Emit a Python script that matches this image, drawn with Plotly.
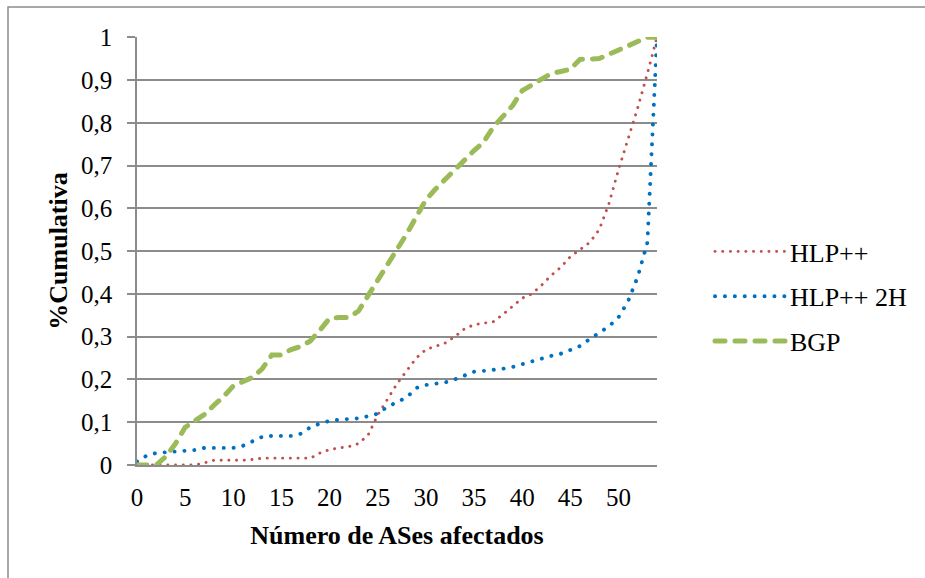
import plotly.graph_objects as go

# ---- data ----
categories = list(range(0, 55))

hlp = [0, 0, 0, 0, 0, 0, 0, 0.005, 0.011, 0.011,
       0.011, 0.011, 0.013, 0.016, 0.016, 0.016, 0.016, 0.016, 0.016, 0.028,
       0.036, 0.04, 0.043, 0.05, 0.07, 0.117, 0.155, 0.19, 0.22, 0.25,
       0.27, 0.278, 0.285, 0.30, 0.318, 0.328, 0.332, 0.335, 0.352, 0.37,
       0.39, 0.40, 0.42, 0.443, 0.462, 0.487, 0.503, 0.52, 0.55, 0.61,
       0.69, 0.76, 0.835, 0.915, 1.0]

hlp2h = [0.008, 0.022, 0.028, 0.03, 0.03, 0.033, 0.035, 0.04, 0.04, 0.04,
         0.04, 0.045, 0.056, 0.066, 0.068, 0.068, 0.068, 0.073, 0.088, 0.097,
         0.103, 0.106, 0.108, 0.109, 0.114, 0.12, 0.136, 0.148, 0.158, 0.18,
         0.187, 0.19, 0.193, 0.2, 0.21, 0.218, 0.22, 0.222, 0.225, 0.229,
         0.236, 0.243, 0.249, 0.255, 0.26, 0.268, 0.278, 0.294, 0.308, 0.324,
         0.345, 0.383, 0.44, 0.52, 1.0]

bgp = [0, 0, 0, 0.02, 0.05, 0.088, 0.102, 0.118, 0.14, 0.16,
       0.185, 0.196, 0.205, 0.225, 0.257, 0.257, 0.27, 0.277, 0.29, 0.315,
       0.343, 0.345, 0.345, 0.36, 0.395, 0.43, 0.47, 0.505, 0.54, 0.58,
       0.62, 0.645, 0.668, 0.688, 0.712, 0.735, 0.755, 0.79, 0.815, 0.84,
       0.875, 0.888, 0.9, 0.915, 0.92, 0.925, 0.948, 0.948, 0.95, 0.96,
       0.97, 0.98, 0.99, 1.0, 1.0]

series_names = ["HLP++", "HLP++ 2H", "BGP"]
x_tickvals = [0, 5, 10, 15, 20, 25, 30, 35, 40, 45, 50]
y_tickvals = [0, 0.1, 0.2, 0.3, 0.4, 0.5, 0.6, 0.7, 0.8, 0.9, 1]
y_ticktext = ["0", "0,1", "0,2", "0,3", "0,4", "0,5", "0,6", "0,7", "0,8", "0,9", "1"]

FONT = "Liberation Serif"
GRID = "#8c8c8c"

W, H = 925, 578
L, R, T, B = 137, 657, 37, 465

fig = go.Figure()
fig.add_trace(go.Scatter(x=categories, y=hlp, name=series_names[0], mode="lines",
                         line=dict(color="#C0504D", width=2.9, dash="0.1px,7.6px"),
                         legendgroup="a"))
fig.add_trace(go.Scatter(x=categories, y=hlp2h, name=series_names[1], mode="lines",
                         line=dict(color="#0070C0", width=3.9, dash="0.1px,9.8px"),
                         legendgroup="b"))
fig.add_trace(go.Scatter(x=categories, y=bgp, name=series_names[2], mode="lines",
                         line=dict(color="#9BBB59", width=5, dash="10px,10px"),
                         legendgroup="c"))

def px_x(p):
    return (p - L) / (R - L)

def px_y(p):
    return (B - p) / (B - T)

fig.update_layout(
    width=W, height=H,
    margin=dict(l=L, r=W - R, t=T, b=H - B),
    paper_bgcolor="white", plot_bgcolor="white",
    font=dict(family=FONT, size=25, color="black"),
    showlegend=True,
    legend=dict(x=px_x(710), y=px_y(228), xanchor="left", yanchor="top",
                font=dict(family=FONT, size=26, color="black"), tracegroupgap=8,
                itemwidth=70, bgcolor="rgba(0,0,0,0)"),
    xaxis=dict(range=[0, 54], tickvals=x_tickvals, showgrid=False, zeroline=False,
               showline=True, linecolor=GRID, linewidth=1.5, ticks="",
               ticklabelstandoff=9,
               tickfont=dict(family=FONT, size=25, color="black"),
               title=dict(text="<b>Número de ASes afectados</b>", standoff=16,
                          font=dict(family=FONT, size=26, color="black"))),
    yaxis=dict(range=[0, 1.0005], tickvals=y_tickvals, ticktext=y_ticktext,
               showgrid=True, gridcolor=GRID, gridwidth=1.5, zeroline=False,
               showline=True, linecolor=GRID, linewidth=1.5,
               ticks="outside", ticklen=8, tickcolor=GRID, tickwidth=1.5,
               ticklabelstandoff=10,
               tickfont=dict(family=FONT, size=25, color="black"),
               title=dict(text="<b>%Cumulativa</b>", standoff=6,
                          font=dict(family=FONT, size=26, color="black"))),
    shapes=[dict(type="rect", xref="paper", yref="paper",
                 x0=px_x(8), x1=px_x(940), y0=px_y(600), y1=px_y(7),
                 line=dict(color="#8c8c8c", width=1.5), layer="below")],
)

post = ("document.querySelectorAll('path.js-line').forEach(function(p){"
        "p.style.strokeLinecap='round';});")
fig.write_html("out.html", post_script=post)
